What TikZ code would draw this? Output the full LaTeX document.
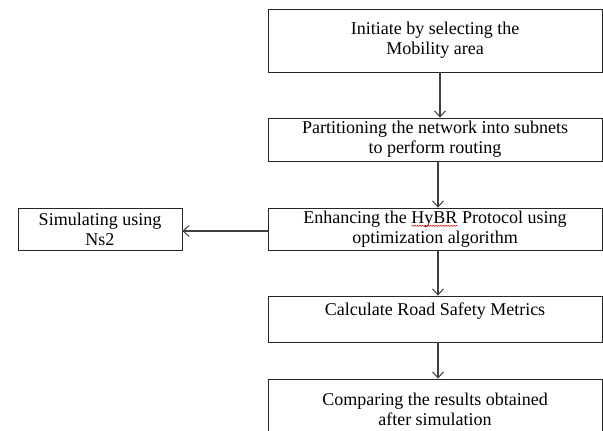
\documentclass[tikz,border=0pt]{standalone}
\usepackage{fontspec}
\setmainfont{Liberation Serif}
\usetikzlibrary{arrows.meta,decorations.pathmorphing}
\newcommand{\spellsquig}[1]{\tikz[baseline=(w.base),x=1pt,y=1pt]{\node[inner sep=0pt,outer sep=0pt,minimum width=0pt,minimum height=0pt,draw=none,line width=0.4pt,anchor=base] (w) at (0,0) {#1};
  \draw[red!85!black,line width=0.5pt,decorate,decoration={snake,amplitude=0.6pt,segment length=2.6pt}] ([yshift=-2.5pt]w.base west) -- ([yshift=-2.5pt]w.base east);}}
\begin{document}
\begin{tikzpicture}[x=1pt,y=-1pt,
  box/.style={draw=black!85,line width=0.8pt,inner sep=0pt,align=center,font=\fontsize{18}{20}\selectfont},
  conn/.style={draw=black!75,line width=1.1pt,-{Straight Barb[length=6pt,width=11pt,line width=1pt]}}]
\useasboundingbox (0,0) rectangle (603,431);
\clip (0,0) rectangle (603,431);
\node[box,minimum width=334pt,minimum height=63pt] (b1) at (435,40.5) {Initiate by selecting the\\Mobility area};
\node[box,minimum width=334pt,minimum height=43pt] (b2) at (435,139.5) {Partitioning the network into subnets\\to perform routing};
\node[box,minimum width=334pt,minimum height=42pt] (b3) at (435,229) {Enhancing the \spellsquig{HyBR} Protocol using\\optimization algorithm};
\node[box,minimum width=164pt,minimum height=42pt] (sim) at (100,229) {Simulating using\\Ns2};
\node[box,minimum width=334pt,minimum height=46pt] (b4) at (435,319) {Calculate Road Safety Metrics\\\mbox{}};
\node[box,minimum width=334pt,minimum height=61pt] (b5) at (435,409.5) {Comparing the results obtained\\after simulation};
\draw[conn] ([xshift=5pt]b1.south) -- ([xshift=5pt]b2.north);
\draw[conn] ([xshift=3pt]b2.south) -- ([xshift=3pt]b3.north);
\draw[conn] ([xshift=3pt]b3.south) -- ([xshift=3pt]b4.north);
\draw[conn] ([xshift=3pt]b4.south) -- ([xshift=3pt]b5.north);
\draw[conn] ([yshift=-2pt]b3.west) -- ([yshift=-2pt]sim.east);
\end{tikzpicture}
\end{document}
